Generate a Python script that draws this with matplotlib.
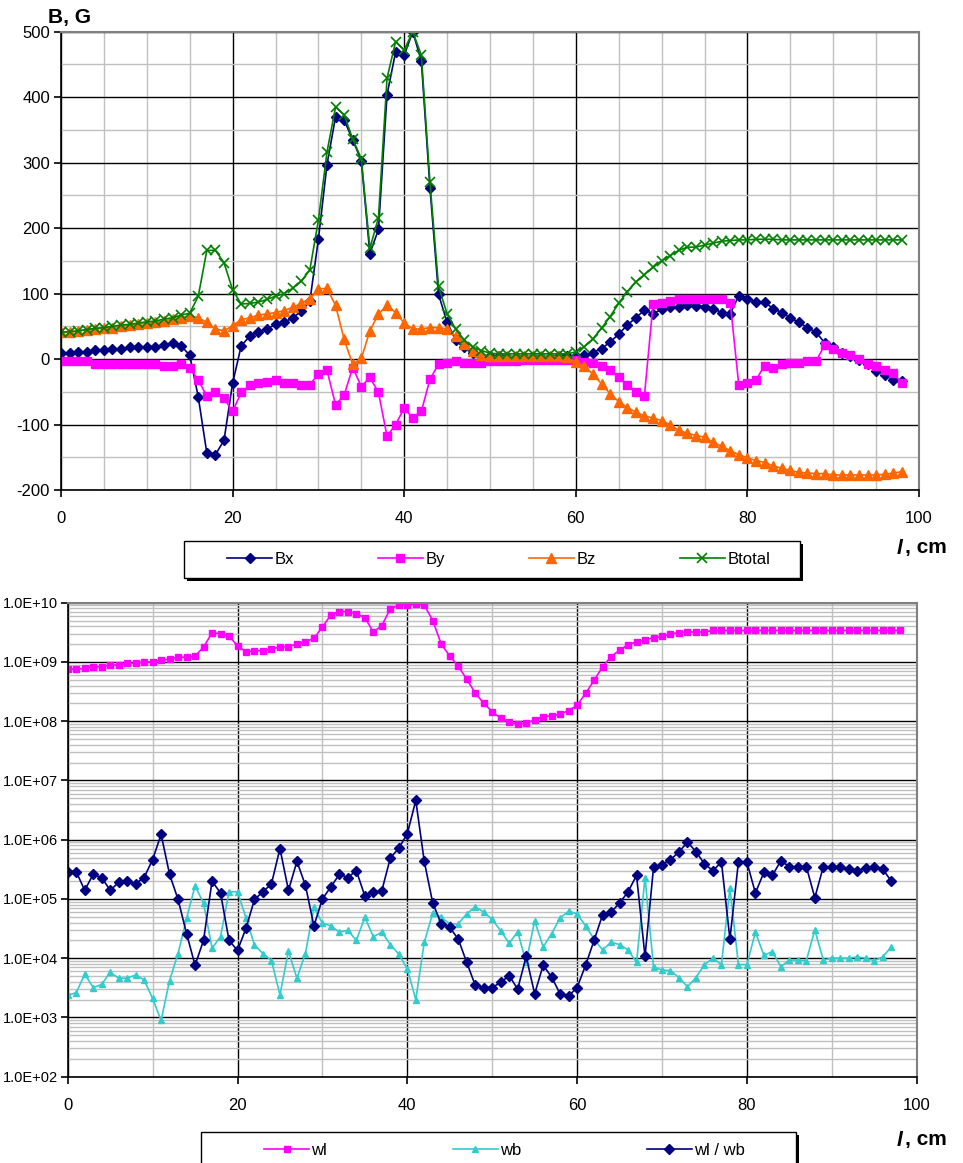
import math
import matplotlib
matplotlib.use("Agg")
import matplotlib.pyplot as plt
from matplotlib.patches import Rectangle
from matplotlib.ticker import MultipleLocator, FixedLocator, FuncFormatter, LogLocator, NullFormatter

plt.rcParams['font.family'] = ['Liberation Sans', 'DejaVu Sans']
plt.rcParams['axes.unicode_minus'] = False

# position along the device, cm
pos = list(range(99))
pos_ratio = list(range(98))

# field components, G
bx = [9, 9, 11, 11, 14, 14, 15, 16, 18, 18, 19, 19, 22, 24, 20, 6, -58, -144, -146, -124,
      -37, 20, 35, 42, 46, 53, 56, 63, 73, 88, 183, 297, 370, 365, 335, 303, 161, 198, 404, 469,
      464, 500, 455, 262, 99, 56, 29, 18, 9, 5, 4, 4, 3, 3, 3, 3, 3, 3, 4, 4,
      5, 6, 10, 16, 26, 38, 52, 63, 75, 69, 76, 79, 80, 82, 81, 80, 77, 71, 69, 97,
      92, 87, 87, 77, 71, 63, 56, 48, 41, 25, 18, 10, 5, -2, -8, -18, -24, -32, -33]
by = [-3, -3, -3, -3, -7, -7, -7, -7, -7, -7, -7, -7, -10, -10, -8, -13, -32, -57, -51, -60,
      -80, -51, -40, -37, -35, -32, -37, -36, -39, -39, -23, -17, -70, -55, -13, -42, -28, -51, -118, -100,
      -75, -90, -80, -31, -8, -6, -3, -6, -6, -6, -3, -3, -3, -3, -2, -2, -2, -2, -2, -2,
      -1, -5, -6, -10, -16, -28, -40, -50, -56, 84, 86, 89, 92, 92, 92, 92, 92, 92, 86, -40,
      -37, -32, -10, -13, -8, -6, -6, -3, -3, 21, 15, 10, 6, 0, -8, -11, -16, -21, -37]
bz = [41, 41, 43, 45, 46, 47, 48, 50, 52, 53, 55, 56, 58, 61, 63, 66, 63, 56, 46, 43,
      51, 60, 63, 67, 69, 71, 74, 79, 85, 92, 107, 108, 82, 30, -8, 1, 43, 69, 82, 71,
      55, 46, 46, 48, 48, 46, 35, 23, 13, 6, 4, 4, 4, 4, 4, 4, 4, 4, 4, 3,
      -5, -11, -23, -38, -53, -65, -74, -81, -87, -90, -94, -100, -109, -113, -117, -119, -127, -133, -140, -146,
      -151, -155, -158, -163, -167, -170, -173, -174, -175, -175, -177, -177, -177, -177, -177, -177, -176, -174, -172]
btotal = [41, 42, 43, 45, 47, 48, 50, 52, 53, 55, 57, 58, 61, 63, 67, 70, 96, 166, 166, 147,
          106, 84, 85, 87, 91, 96, 100, 108, 119, 136, 212, 316, 385, 373, 336, 306, 169, 216, 429, 485,
          472, 500, 464, 270, 111, 69, 46, 29, 18, 13, 9, 8, 8, 8, 8, 8, 8, 8, 8, 8,
          11, 19, 31, 47, 65, 85, 103, 118, 129, 140, 150, 158, 166, 171, 171, 174, 177, 180, 181, 182,
          182, 183, 183, 183, 182, 182, 182, 182, 182, 182, 182, 182, 182, 182, 182, 182, 182, 182, 182]

wl = [7.5e8, 7.5e8, 7.8e8, 8.3e8, 8.3e8, 8.9e8, 8.9e8, 9.5e8, 9.5e8, 1.0e9,
      1.0e9, 1.07e9, 1.12e9, 1.2e9, 1.2e9, 1.26e9, 1.78e9, 3.1e9, 3.0e9, 2.75e9,
      1.86e9, 1.48e9, 1.55e9, 1.55e9, 1.66e9, 1.78e9, 1.82e9, 2.0e9, 2.19e9, 2.5e9,
      3.9e9, 6.2e9, 7.1e9, 7.1e9, 6.5e9, 5.6e9, 3.2e9, 4.1e9, 7.9e9, 9.1e9,
      9.1e9, 9.5e9, 9.1e9, 5.0e9, 2.0e9, 1.26e9, 8.5e8, 5.1e8, 3.0e8, 2.0e8,
      1.45e8, 1.12e8, 9.8e7, 8.9e7, 9.3e7, 1.05e8, 1.2e8, 1.23e8, 1.32e8, 1.51e8,
      1.86e8, 2.95e8, 4.9e8, 8.3e8, 1.23e9, 1.58e9, 1.95e9, 2.19e9, 2.34e9, 2.57e9,
      2.69e9, 3.0e9, 3.1e9, 3.2e9, 3.2e9, 3.2e9, 3.4e9, 3.4e9, 3.4e9, 3.4e9,
      3.4e9, 3.4e9, 3.4e9, 3.4e9, 3.4e9, 3.4e9, 3.4e9, 3.4e9, 3.4e9, 3.4e9,
      3.4e9, 3.4e9, 3.4e9, 3.4e9, 3.4e9, 3.4e9, 3.4e9, 3.4e9, 3.4e9]
wb = [2.4e3, 2.6e3, 5.4e3, 3.2e3, 3.6e3, 5.8e3, 4.6e3, 4.6e3, 5.2e3, 4.3e3,
      2.1e3, 8.9e2, 4.2e3, 1.2e4, 4.7e4, 1.66e5, 8.5e4, 1.48e4, 2.3e4, 1.32e5,
      1.32e5, 4.8e4, 1.66e4, 1.2e4, 9.1e3, 2.4e3, 1.32e4, 4.6e3, 1.2e4, 7.2e4,
      3.9e4, 3.5e4, 2.75e4, 2.95e4, 2.0e4, 4.9e4, 2.3e4, 2.75e4, 1.7e4, 1.17e4,
      6.6e3, 2.0e3, 1.86e4, 5.8e4, 4.9e4, 3.8e4, 3.8e4, 5.6e4, 7.4e4, 6.0e4,
      4.5e4, 2.9e4, 1.78e4, 2.8e4, 8.5e3, 4.3e4, 1.55e4, 2.6e4, 4.8e4, 6.2e4,
      5.6e4, 3.5e4, 2.1e4, 1.38e4, 1.86e4, 1.7e4, 1.38e4, 8.5e3, 2.3e5, 7.1e3,
      6.3e3, 6.2e3, 4.7e3, 3.3e3, 4.7e3, 7.8e3, 1.0e4, 7.8e3, 1.55e5, 7.8e3,
      7.8e3, 2.75e4, 1.12e4, 1.29e4, 7.2e3, 9.3e3, 9.3e3, 9.1e3, 3.0e4, 9.3e3,
      1.0e4, 1.0e4, 1.0e4, 1.05e4, 1.0e4, 9.1e3, 1.05e4, 1.55e4]
ratio = [2.9e5, 2.9e5, 1.4e5, 2.6e5, 2.3e5, 1.4e5, 1.9e5, 2.0e5, 1.8e5, 2.3e5,
         4.6e5, 1.23e6, 2.6e5, 9.8e4, 2.6e4, 7.6e3, 2.0e4, 2.0e5, 1.26e5, 2.0e4,
         1.35e4, 3.2e4, 9.8e4, 1.32e5, 1.8e5, 7.1e5, 1.4e5, 4.3e5, 1.7e5, 3.5e4,
         1.0e5, 1.6e5, 2.6e5, 2.3e5, 3.0e5, 1.12e5, 1.32e5, 1.38e5, 4.9e5, 7.2e5,
         1.26e6, 4.6e6, 4.3e5, 8.5e4, 3.8e4, 3.3e4, 2.1e4, 8.5e3, 3.5e3, 3.2e3,
         3.2e3, 3.9e3, 5.1e3, 3.0e3, 1.07e4, 2.5e3, 7.6e3, 4.8e3, 2.5e3, 2.3e3,
         3.2e3, 7.6e3, 2.0e4, 5.4e4, 6.0e4, 8.5e4, 1.32e5, 2.5e5, 1.07e4, 3.4e5,
         3.8e5, 4.6e5, 6.2e5, 9.1e5, 6.3e5, 3.9e5, 3.0e5, 4.2e5, 2.1e4, 4.2e5,
         4.2e5, 1.26e5, 2.8e5, 2.5e5, 4.4e5, 3.5e5, 3.5e5, 3.5e5, 1.05e5, 3.5e5,
         3.4e5, 3.4e5, 3.2e5, 3.0e5, 3.3e5, 3.5e5, 3.2e5, 2.0e5]

NAVY = '#000080'
MAGENTA = '#FF00FF'
ORANGE = '#FF6600'
GREEN = '#008000'
CYAN = '#33CCCC'
LIGHT = '#C0C0C0'

W, H = 963, 1163


def fx(px):
    return px / W


def fy(py):
    return 1 - py / H


def style_axes(ax):
    ax.set_axisbelow(True)
    ax.grid(True, which='minor', color=LIGHT, linewidth=1.0)
    ax.grid(True, which='major', color='black', linewidth=1.0)
    for s in ('top', 'right'):
        ax.spines[s].set_color('#808080')
        ax.spines[s].set_linewidth(1.5)
    for s in ('left', 'bottom'):
        ax.spines[s].set_linewidth(1.2)
    ax.tick_params(which='major', direction='out', length=5, width=1.2, labelsize=12, pad=3)
    ax.tick_params(which='minor', length=0)
    ax.tick_params(axis='x', pad=10)


def legend_box(handles, left, right, top, bottom, item_left, item_right):
    # excel-like box with a black drop shadow, entries spread inside it
    fig.patches.append(Rectangle((fx(left + 3), fy(bottom + 3)), fx(right - left), (bottom - top) / H,
                                 transform=fig.transFigure, facecolor='black', edgecolor='none', zorder=1))
    fig.patches.append(Rectangle((fx(left), fy(bottom)), fx(right - left), (bottom - top) / H,
                                 transform=fig.transFigure, facecolor='white', edgecolor='black',
                                 linewidth=1.0, zorder=2))
    yc = fy((top + min(bottom, top + 37)) / 2)
    fig.legend(handles=handles, loc='center',
               bbox_to_anchor=(fx(item_left), yc, fx(item_right - item_left), 0),
               mode='expand', ncol=len(handles), fontsize=12, frameon=False,
               handlelength=2.7, handletextpad=0.15, borderpad=0, borderaxespad=0)


fig = plt.figure(figsize=(W / 100, H / 100), dpi=100)

# ---- top panel: field components
ax1 = fig.add_axes([fx(61), fy(490), fx(858), 458.3 / H])
ax1.plot(pos, bx, color=NAVY, marker='D', markersize=5.5, lw=1.2, label='Bx')
ax1.plot(pos, by, color=MAGENTA, marker='s', markersize=6, lw=1.2, label='By')
ax1.plot(pos, bz, color=ORANGE, marker='^', markersize=7, lw=1.2, label='Bz')
ax1.plot(pos, btotal, color=GREEN, marker='x', markersize=7, mew=1.2, lw=1.2, label='Btotal')
ax1.set_xlim(0, 100)
ax1.set_ylim(-200, 500)
ax1.xaxis.set_major_locator(MultipleLocator(20))
ax1.xaxis.set_minor_locator(MultipleLocator(5))
ax1.yaxis.set_major_locator(MultipleLocator(100))
ax1.yaxis.set_minor_locator(MultipleLocator(50))
style_axes(ax1)

fig.text(fx(48), fy(17), 'B, G', fontsize=15, fontweight='bold', va='center')
legend_box(ax1.get_lines(), 184, 800, 541, 578, 227, 770)

# ---- bottom panel: wl, wb and their ratio
ax2 = fig.add_axes([fx(67.7), fy(1076.7), fx(849), 474 / H])
ax2.plot(pos, wl, color=MAGENTA, marker='s', markersize=4, lw=1.2, label='wl')
ax2.plot(pos_ratio, wb, color=CYAN, marker='^', markersize=5, lw=1.2, label='wb')
ax2.plot(pos_ratio, ratio, color=NAVY, marker='D', markersize=5.5, lw=1.2, label='wl / wb')
ax2.set_yscale('log')
ax2.set_xlim(0, 100)
ax2.set_ylim(1e2, 1e10)
ax2.xaxis.set_major_locator(MultipleLocator(20))
ax2.xaxis.set_minor_locator(MultipleLocator(10))
ax2.yaxis.set_major_locator(FixedLocator([10.0 ** k for k in range(2, 11)]))
ax2.yaxis.set_minor_locator(LogLocator(base=10, subs=range(2, 10), numticks=20))
ax2.yaxis.set_minor_formatter(NullFormatter())
ax2.yaxis.set_major_formatter(FuncFormatter(lambda v, p: '1.0E+%02d' % round(math.log10(v))))
style_axes(ax2)
ax2.tick_params(axis='y', labelsize=10.5, pad=2)

legend_box(ax2.get_lines(), 201, 796, 1132, 1175, 264, 745)

# axis captions "l, cm" (italic l)
for ypix in (548, 1140):
    fig.text(fx(897), fy(ypix), 'l', fontsize=15, fontweight='bold', style='italic', va='center')
    fig.text(fx(905), fy(ypix), ', cm', fontsize=15, fontweight='bold', va='center')

fig.savefig('out.png', dpi=100)
